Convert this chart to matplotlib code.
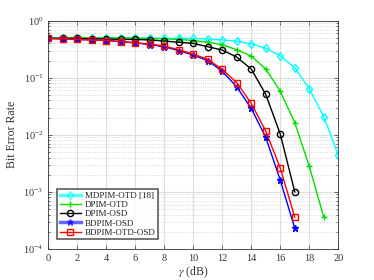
import matplotlib
matplotlib.use('Agg')
import matplotlib.pyplot as plt
from matplotlib.lines import Line2D
from matplotlib.ticker import LogLocator, NullFormatter

plt.rcParams['font.family'] = ['Liberation Serif', 'DejaVu Serif']
plt.rcParams['mathtext.fontset'] = 'stix'

# data
snr_cyan = list(range(0, 21))
ber_mdpim_otd = [0.5, 0.5, 0.5, 0.5, 0.5, 0.5, 0.5, 0.5, 0.49, 0.49, 0.49,
                 0.48, 0.46, 0.44, 0.39, 0.33, 0.243, 0.15, 0.064, 0.0208, 0.0044]
snr_green = list(range(0, 20))
ber_dpim_otd = [0.5, 0.5, 0.5, 0.5, 0.5, 0.5, 0.49, 0.49, 0.48, 0.47,
                0.45, 0.42, 0.38, 0.31, 0.24, 0.142, 0.058, 0.0163, 0.0028, 0.00036]
snr_short = list(range(0, 18))
ber_dpim_osd = [0.49, 0.49, 0.49, 0.48, 0.48, 0.47, 0.47, 0.46, 0.44, 0.42,
                0.40, 0.35, 0.306, 0.23, 0.142, 0.051, 0.0103, 0.001]
ber_bdpim_osd = [0.49, 0.48, 0.47, 0.46, 0.45, 0.43, 0.41, 0.38, 0.35, 0.30,
                 0.25, 0.20, 0.13, 0.069, 0.029, 0.009, 0.0016, 0.00023]
ber_bdpim_otd_osd = [0.49, 0.48, 0.47, 0.46, 0.45, 0.43, 0.41, 0.39, 0.36, 0.31,
                     0.26, 0.21, 0.14, 0.082, 0.0355, 0.0116, 0.0026, 0.00036]

labels = ['MDPIM-OTD [18]', 'DPIM-OTD', 'DPIM-OSD', 'BDPIM-OSD', 'BDPIM-OTD-OSD']

fig = plt.figure(figsize=(3.74, 2.8), dpi=100)
ax = fig.add_axes([0.129, 0.111, 0.7755, 0.815])

ms = 4.5
ax.semilogy(snr_cyan, ber_mdpim_otd, color='cyan', marker='d', mfc='none', ms=ms, lw=1)
ax.semilogy(snr_green, ber_dpim_otd, color='#00e000', marker='+', ms=ms, lw=1)
ax.semilogy(snr_short, ber_dpim_osd, color='black', marker='o', mfc='none', ms=ms, lw=1)
ax.semilogy(snr_short, ber_bdpim_osd, color='blue', marker='*', ms=ms, lw=1)
ax.semilogy(snr_short, ber_bdpim_otd_osd, color='red', marker='s', mfc='none', ms=ms - 0.5, lw=1)

ax.set_xlim(0, 20)
ax.set_ylim(1e-4, 1)
ax.set_xticks(range(0, 21, 2))
ax.yaxis.set_major_locator(LogLocator(base=10, numticks=10))
ax.yaxis.set_minor_locator(LogLocator(base=10, subs=range(2, 10), numticks=10))
ax.yaxis.set_minor_formatter(NullFormatter())
ax.set_xticks(range(0, 21, 1), minor=True)

ax.grid(True, which='major', color='#dddddd', lw=0.8, ls='-')
ax.grid(True, which='minor', axis='y', color='#cccccc', lw=0.6, ls=':')
ax.set_axisbelow(True)

ax.tick_params(which='both', direction='in', top=True, right=True, labelsize=7.5,
               colors='#333333', width=0.5)
ax.tick_params(which='major', length=3)
ax.tick_params(which='minor', length=1.5)
ax.tick_params(axis='x', which='minor', length=0)
for s in ax.spines.values():
    s.set_linewidth(0.6)
    s.set_color('#333333')

ax.set_xlabel(r'$\gamma$ (dB)', fontsize=8.5, color='#333333', labelpad=1)
ax.set_ylabel('Bit Error Rate', fontsize=8.5, color='#333333', labelpad=4)

handles = [
    Line2D([], [], color='cyan', marker='d', mfc='none', ms=ms, lw=2.5, alpha=0.7),
    Line2D([], [], color='#00e000', marker='+', ms=ms, lw=1),
    Line2D([], [], color='black', marker='o', mfc='none', ms=ms, lw=1),
    Line2D([], [], color='blue', marker='*', ms=ms, lw=2.5, alpha=0.6),
    Line2D([], [], color='red', marker='s', mfc='none', ms=ms - 0.5, lw=1),
]
leg = ax.legend(handles, labels, loc='lower left', bbox_to_anchor=(0.025, 0.035),
                fontsize=6.5, frameon=True, fancybox=False, edgecolor='#333333',
                handlelength=2.4, borderpad=0.25, labelspacing=0.1, handletextpad=0.4,
                borderaxespad=0.2)
leg.get_frame().set_linewidth(1.2)
for t in leg.get_texts():
    t.set_color('#222222')

fig.savefig('out.png', dpi=100)
